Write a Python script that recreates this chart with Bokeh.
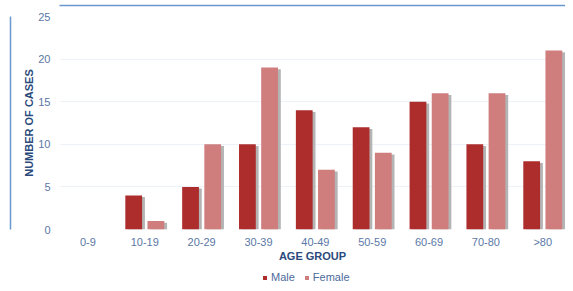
from bokeh.plotting import figure
from bokeh.models import (Range1d, FixedTicker, Legend, LegendItem, ColumnDataSource,
                          LinearAxis, Title)
from bokeh.layouts import column
from bokeh.embed import file_html
from bokeh.resources import INLINE

age_groups = ["0-9", "10-19", "20-29", "30-39", "40-49", "50-59", "60-69", "70-80", ">80"]
male = [0, 4, 5, 10, 14, 12, 15, 10, 8]
female = [0, 1, 10, 19, 7, 9, 16, 16, 21]
y_ticks = [0, 5, 10, 15, 20, 25]
series_names = ["Male", "Female"]

idx = list(range(len(age_groups)))
off = 0.195
bw = 0.295
sh = 0.05

src = ColumnDataSource(dict(
    xm=[i - off for i in idx], xf=[i + off for i in idx],
    xms=[i - off + sh for i in idx], xfs=[i + off + sh for i in idx],
    male=male, female=female,
    males=[max(v - 0.2, 0) for v in male], females=[max(v - 0.2, 0) for v in female],
))

FONT = "Liberation Sans"
BORDER = "#6b97cf"
MALE_C = "#ad2d2d"
FEMALE_C = "#cf7d7d"

p = figure(width=565, height=264, output_backend="svg", toolbar_location=None,
           x_range=Range1d(-0.5, 8.40), y_range=Range1d(0, 25),
           min_border_left=59, min_border_right=0, min_border_top=16, min_border_bottom=30)
p.outline_line_color = None
p.background_fill_color = "white"

p.vbar(x="xms", top="males", width=bw, source=src, fill_color="#b4b4b4", line_color=None)
p.vbar(x="xfs", top="females", width=bw, source=src, fill_color="#b4b4b4", line_color=None)
p.vbar(x="xm", top="male", width=bw, source=src, fill_color=MALE_C, line_color=None)
p.vbar(x="xf", top="female", width=bw, source=src, fill_color=FEMALE_C, line_color=None)

p.xgrid.grid_line_color = None
p.ygrid.grid_line_color = "#edf2f9"
p.ygrid.ticker = FixedTicker(ticks=y_ticks)

p.xaxis.ticker = FixedTicker(ticks=idx)
p.xaxis.major_label_overrides = {i: g for i, g in enumerate(age_groups)}
p.yaxis.ticker = FixedTicker(ticks=y_ticks)

for ax in (p.xaxis[0], p.yaxis[0]):
    ax.axis_line_color = None
    ax.major_tick_line_color = None
    ax.minor_tick_line_color = None
    ax.major_tick_out = 0
    ax.major_tick_in = 0
    ax.major_label_text_font = FONT
    ax.major_label_text_font_size = "11px"
    ax.major_label_text_color = "#5b78a6"
    ax.axis_label_text_font = FONT
    ax.axis_label_text_font_style = "bold"
    ax.axis_label_text_color = "#2b4a7c"
    ax.axis_label_text_font_size = "11px"

p.xaxis.axis_label = "AGE GROUP"
p.xaxis.major_label_standoff = 6
p.xaxis.axis_label_standoff = -1
p.yaxis.major_label_standoff = 9

# y-axis title, spacer, and the panel's left border line
p.add_layout(Title(text="NUMBER OF CASES", align="center", standoff=1,
                   text_font=FONT, text_font_size="11px", text_font_style="bold",
                   text_color="#2b4a7c"), "left")
p.add_layout(Title(text=" ", text_font_size="1px", standoff=6.5), "left")
p.add_layout(LinearAxis(ticker=FixedTicker(ticks=[]), axis_line_color=BORDER,
                        axis_line_width=1.5, major_tick_line_color=None,
                        minor_tick_line_color=None, major_label_text_font_size="0px"), "left")

# top border line
p.add_layout(Title(text=" ", text_font_size="1px", standoff=8), "above")
p.add_layout(LinearAxis(ticker=FixedTicker(ticks=[]), axis_line_color=BORDER,
                        axis_line_width=1.5, major_tick_line_color=None,
                        minor_tick_line_color=None, major_label_text_font_size="0px"), "above")

# legend strip
lg = figure(width=565, height=19, output_backend="svg", toolbar_location=None,
            x_range=Range1d(0, 1), y_range=Range1d(0, 1),
            min_border=0)
lg.axis.visible = False
lg.grid.visible = False
lg.outline_line_color = None
hidden = ColumnDataSource(dict(x=[-10], top=[-5]))
r1 = lg.vbar(x="x", top="top", width=0.1, source=hidden, fill_color=MALE_C, line_color=None)
r2 = lg.vbar(x="x", top="top", width=0.1, source=hidden, fill_color=FEMALE_C, line_color=None)
legend = Legend(items=[LegendItem(label=series_names[0], renderers=[r1]),
                       LegendItem(label=series_names[1], renderers=[r2])],
                location=(203, 0), orientation="horizontal",
                glyph_width=5, glyph_height=5, label_standoff=4, spacing=9,
                label_text_font=FONT, label_text_font_size="11px",
                label_text_color="#4d6b9c", background_fill_alpha=0,
                border_line_color=None, padding=3, margin=0)
lg.add_layout(legend, "center")

layout = column(p, lg, spacing=0)
open("out.html", "w").write(file_html(layout, INLINE))
